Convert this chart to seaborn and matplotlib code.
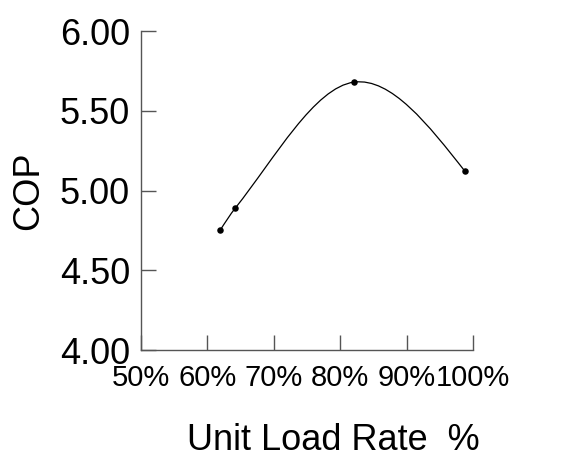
import matplotlib
matplotlib.use("Agg")
import matplotlib.pyplot as plt
from matplotlib.path import Path
from matplotlib.patches import PathPatch
import seaborn as sns
import pandas as pd

# data
load_rate = [61.9, 64.2, 82.1, 98.8]
cop = [4.75, 4.89, 5.68, 5.12]
x_ticks = [50, 60, 70, 80, 90, 100]
x_tick_labels = ["50%", "60%", "70%", "80%", "90%", "100%"]
y_ticks = [4.00, 4.50, 5.00, 5.50, 6.00]

df = pd.DataFrame({"load": load_rate, "cop": cop})

sns.set_style("ticks")
plt.rcParams["font.family"] = ["Liberation Sans", "DejaVu Sans"]

fig = plt.figure(figsize=(5.79, 4.57), dpi=100)
ax = fig.add_axes([0.2435, 0.234, 0.5735, 0.698])

# smooth curve through the points: cubic Hermite segments drawn as bezier curves
xs, ys = list(df["load"]), list(df["cop"])
n = len(xs)
sec = [(ys[i + 1] - ys[i]) / (xs[i + 1] - xs[i]) for i in range(n - 1)]
slope = [0.0] * n
for i in range(1, n - 1):
    slope[i] = (sec[i - 1] + sec[i]) / 2
slope[0] = (3 * sec[0] - slope[1]) / 2
slope[-1] = (3 * sec[-1] - slope[-2]) / 2
verts = [(xs[0], ys[0])]
codes = [Path.MOVETO]
for i in range(n - 1):
    dx = (xs[i + 1] - xs[i]) / 3
    verts += [(xs[i] + dx, ys[i] + slope[i] * dx),
              (xs[i + 1] - dx, ys[i + 1] - slope[i + 1] * dx),
              (xs[i + 1], ys[i + 1])]
    codes += [Path.CURVE4] * 3
ax.add_patch(PathPatch(Path(verts, codes), fill=False, lw=0.9, edgecolor="black"))

sns.scatterplot(data=df, x="load", y="cop", ax=ax, color="black", s=22,
                edgecolor="black", linewidth=0, zorder=3)

ax.set_xlim(50, 100)
ax.set_ylim(4.0, 6.0)
ax.set_xticks(x_ticks)
ax.set_xticklabels(x_tick_labels)
ax.set_yticks(y_ticks)
ax.set_yticklabels([f"{v:.2f}" for v in y_ticks])

for side in ["top", "right"]:
    ax.spines[side].set_visible(False)
for side in ["left", "bottom"]:
    ax.spines[side].set_color("#555555")
    ax.spines[side].set_linewidth(1.0)

ax.tick_params(axis="both", direction="in", length=11, width=1.0,
               color="#555555", labelcolor="black")
ax.tick_params(axis="y", labelsize=26, pad=8)
ax.tick_params(axis="x", labelsize=21, pad=10)

ax.set_xlabel("Unit Load Rate  %", fontsize=26, labelpad=22, color="black", x=0.578)
ax.set_ylabel("COP", fontsize=26, labelpad=10, color="black")

fig.savefig("out.png", dpi=100)
